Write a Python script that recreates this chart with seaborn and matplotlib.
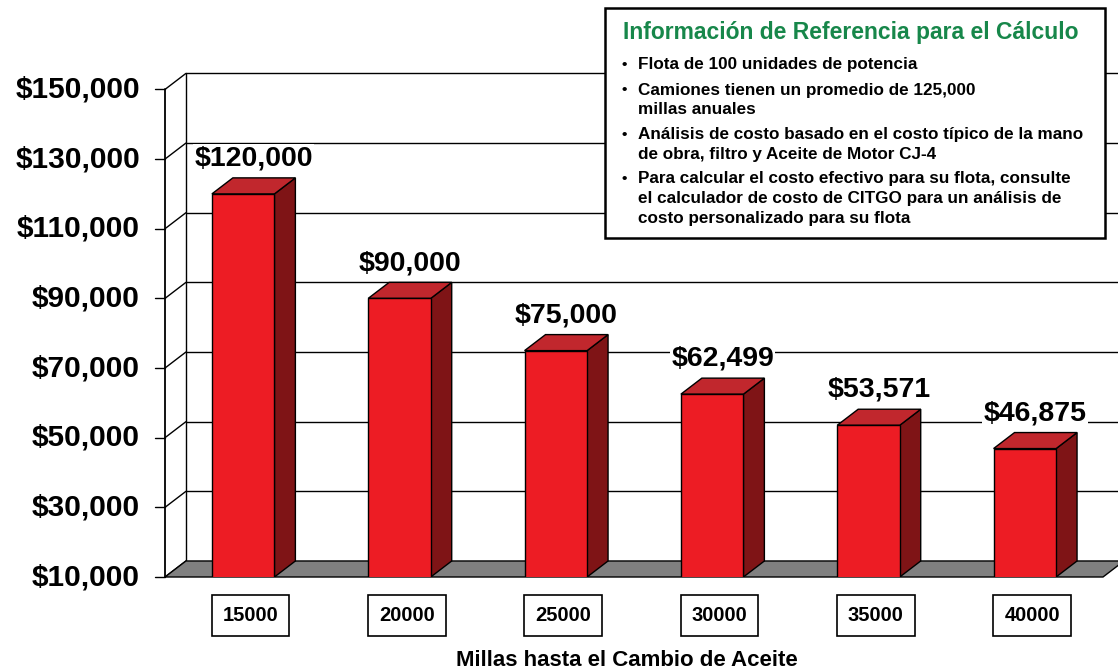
import matplotlib
matplotlib.use("Agg")
import matplotlib.pyplot as plt
from matplotlib.patches import Polygon, Rectangle
import seaborn as sns
import pandas as pd

# data
intervals = ["15000", "20000", "25000", "30000", "35000", "40000"]
costs = [120000, 90000, 75000, 62499, 53571, 46875]
cost_labels = ["$120,000", "$90,000", "$75,000", "$62,499", "$53,571", "$46,875"]
y_ticks = [10000, 30000, 50000, 70000, 90000, 110000, 130000, 150000]

info_title = "Información de Referencia para el Cálculo"
info_bullets = [
    ["Flota de 100 unidades de potencia"],
    ["Camiones tienen un promedio de 125,000", "millas anuales"],
    ["Análisis de costo basado en el costo típico de la mano",
     "de obra, filtro y Aceite de Motor CJ-4"],
    ["Para calcular el costo efectivo para su flota, consulte",
     "el calculador de costo de CITGO para un análisis de",
     "costo personalizado para su flota"],
]

sns.set_style("white")
plt.rcParams["font.family"] = ["Liberation Sans", "DejaVu Sans"]
plt.rcParams["font.weight"] = "bold"
plt.rcParams["text.color"] = "black"

W, H = 1118, 671
fig = plt.figure(figsize=(W / 100, H / 100), dpi=100)
ax = fig.add_axes([165 / W, (H - 577) / H, (1103 - 165) / W, (577 - 72) / H])

df = pd.DataFrame({"interval": intervals, "cost": costs})

FRONT = "#ed1c24"
TOP = "#c1272d"
SIDE = "#7f1416"
DX = 0.134      # depth offset in category units
DY = 4600       # depth offset in value units
XL, XR = -0.5, 5.5
YB = 10000

sns.barplot(data=df, x="interval", y="cost", order=intervals, width=0.4,
            color=FRONT, saturation=1, edgecolor="black", linewidth=1,
            ax=ax, zorder=5)
ax.set_xlim(XL, XR)
ax.set_ylim(YB, 155000)
ax.axis("off")

# back wall grid lines + connectors from the front axis
for v in y_ticks:
    if v > YB:
        ax.plot([XL + DX, XR + DX + 0.1], [v + DY, v + DY], color="black",
                lw=1, zorder=1, clip_on=False)
    ax.plot([XL, XL + DX], [v, v + DY], color="black", lw=1, zorder=1, clip_on=False)
    ax.plot([XL - 0.065, XL], [v, v], color="black", lw=1, zorder=1, clip_on=False)
    ax.text(XL - 0.16, v, f"${v:,}", ha="right", va="center", fontsize=21.5,
            fontweight="bold")
ax.plot([XL + DX, XL + DX], [YB + DY, 150000 + DY], color="black", lw=1, zorder=1,
        clip_on=False)
ax.plot([XL, XL], [YB, 150000], color="black", lw=1.3, zorder=3, clip_on=False)

# floor
ax.add_patch(Polygon([(XL, YB), (XR, YB), (XR + DX, YB + DY), (XL + DX, YB + DY)],
                     closed=True, facecolor="#808080", edgecolor="black", lw=1,
                     zorder=2, clip_on=False))

# 3D faces of the bars, value labels and boxed category labels
for i, p in enumerate(ax.patches[:len(costs)]):
    x0 = p.get_x()
    x1 = x0 + p.get_width()
    v = p.get_height()
    ax.add_patch(Polygon([(x1, YB), (x1 + DX, YB + DY), (x1 + DX, v + DY), (x1, v)],
                         closed=True, facecolor=SIDE, edgecolor="black", lw=1,
                         zorder=4))
    ax.add_patch(Polygon([(x0, v), (x1, v), (x1 + DX, v + DY), (x0 + DX, v + DY)],
                         closed=True, facecolor=TOP, edgecolor="black", lw=1,
                         zorder=4))
    xc = (x0 + x1) / 2 + DX / 2
    ax.text(xc, v + DY + 1800, cost_labels[i], ha="center", va="bottom",
            fontsize=20.5, fontweight="bold", zorder=6,
            bbox=dict(boxstyle="square,pad=0.05", facecolor="white", edgecolor="none"))
    ax.text(xc - 0.02, YB - 11000, intervals[i],
            ha="center", va="center", fontsize=14.5, fontweight="bold",
            bbox=dict(boxstyle="square,pad=0.55", facecolor="white",
                      edgecolor="black", lw=1.2), clip_on=False)

fig.text(627 / W, 1 - 660 / H, "Millas hasta el Cambio de Aceite", ha="center",
         va="center", fontsize=16, fontweight="bold")

# info box
fig.patches.append(Rectangle((605 / W, 1 - 238 / H), 500 / W, 230 / H,
                             transform=fig.transFigure, facecolor="white",
                             edgecolor="black", lw=1.8, zorder=10))
fig.text(623 / W, 1 - 33 / H, info_title, ha="left", va="center", fontsize=16.5,
         fontweight="bold", color="#17874a", zorder=11)
y = 65
for group in info_bullets:
    fig.text(621 / W, 1 - y / H, "•", ha="left", va="center", fontsize=11,
             fontweight="bold", zorder=11)
    for line in group:
        fig.text(638 / W, 1 - y / H, line, ha="left", va="center", fontsize=12.3,
                 fontweight="bold", zorder=11)
        y += 19.5
    y += 5.5

fig.savefig("out.png", dpi=100)
